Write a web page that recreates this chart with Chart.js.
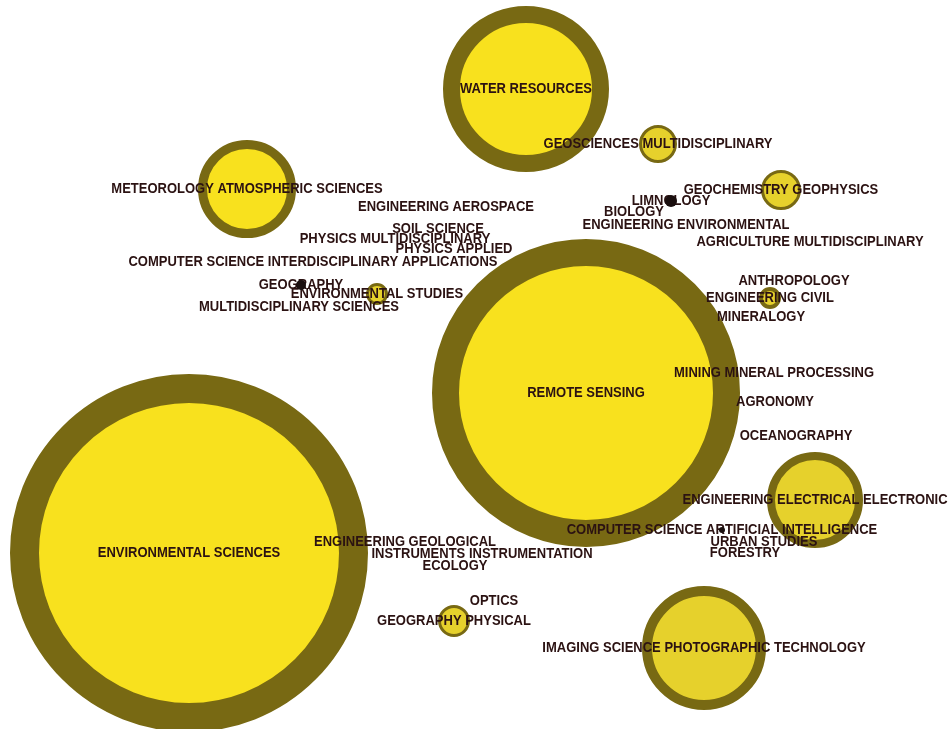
<!DOCTYPE html>
<html>
<head>
<meta charset="utf-8">
<script src="https://cdn.jsdelivr.net/npm/chart.js@4.4.1/dist/chart.umd.min.js"></script>
<style>
  html, body { margin: 0; padding: 0; background: #ffffff; }
  #wrap { width: 950px; height: 729px; position: relative; }
</style>
</head>
<body>
<div id="wrap"><canvas id="c"></canvas></div>
<script>
// Subject categories (node labels)
const categories = [
  "ENVIRONMENTAL SCIENCES", "REMOTE SENSING", "WATER RESOURCES",
  "METEOROLOGY ATMOSPHERIC SCIENCES", "IMAGING SCIENCE PHOTOGRAPHIC TECHNOLOGY",
  "ENGINEERING ELECTRICAL ELECTRONIC", "GEOSCIENCES MULTIDISCIPLINARY",
  "GEOCHEMISTRY GEOPHYSICS", "GEOGRAPHY PHYSICAL", "ENVIRONMENTAL STUDIES",
  "ENGINEERING CIVIL", "LIMNOLOGY", "GEOGRAPHY",
  "COMPUTER SCIENCE ARTIFICIAL INTELLIGENCE", "ENGINEERING AEROSPACE",
  "BIOLOGY", "ENGINEERING ENVIRONMENTAL", "AGRICULTURE MULTIDISCIPLINARY",
  "SOIL SCIENCE", "PHYSICS MULTIDISCIPLINARY", "PHYSICS APPLIED",
  "COMPUTER SCIENCE INTERDISCIPLINARY APPLICATIONS", "MULTIDISCIPLINARY SCIENCES",
  "ANTHROPOLOGY", "MINERALOGY", "MINING MINERAL PROCESSING", "AGRONOMY",
  "OCEANOGRAPHY", "URBAN STUDIES", "FORESTRY", "ENGINEERING GEOLOGICAL",
  "INSTRUMENTS INSTRUMENTATION", "ECOLOGY", "OPTICS"
];
// Layout coordinates of each node
const layoutX = [189, 586, 526, 247, 704, 815, 658, 781, 454, 377, 770, 671, 301,
  722, 446, 634, 686, 810, 438, 395, 454, 313, 299, 794, 761, 774, 775, 796,
  764, 745, 405, 482, 455, 494];
const layoutY = [553, 393, 89, 189, 648, 500, 144, 190, 621, 294, 298, 201, 285,
  530, 207, 212, 225, 242, 229, 239, 249, 262, 307, 281, 317, 373, 402, 436,
  542, 553, 542, 554, 566, 601];
// Total node size (outer radius) and citation-burst ring size
const nodeSize = [179, 154, 83, 49, 62, 48, 19, 20, 16, 11, 11, 6, 5, 3,
  0, 0, 0, 0, 0, 0, 0, 0, 0, 0, 0, 0, 0, 0, 0, 0, 0, 0, 0, 0];
const ringSize = [29, 27, 17, 9, 10, 8, 3, 3, 3, 3, 4, 0, 0, 0,
  0, 0, 0, 0, 0, 0, 0, 0, 0, 0, 0, 0, 0, 0, 0, 0, 0, 0, 0, 0];

const RING = '#786913';
const TEXT = '#2b1212';
const BRIGHT = '#f8e11e', MUTED = '#e6d12c';
const brightNodes = ["ENVIRONMENTAL SCIENCES", "REMOTE SENSING", "WATER RESOURCES", "METEOROLOGY ATMOSPHERIC SCIENCES"];

const ringPts = [], ringBg = [], ringBw = [];
const dotPts = [];
categories.forEach((name, i) => {
  const s = nodeSize[i], w = ringSize[i];
  if (s <= 0) return;
  if (w > 0) {
    ringPts.push({ x: layoutX[i], y: layoutY[i], r: s - w / 2 });
    ringBg.push(brightNodes.includes(name) ? BRIGHT : MUTED);
    ringBw.push(w);
  } else {
    dotPts.push({ x: layoutX[i], y: layoutY[i], r: s });
  }
});

const labelPlugin = {
  id: 'nodeLabels',
  afterDatasetDraw(chart, args) {
    if (args.index !== 1) return;
    const ctx = chart.ctx, xs = chart.scales.x, ys = chart.scales.y;
    const sy = 1.15;
    ctx.save();
    ctx.font = 'bold 13px "Liberation Sans", Arial, sans-serif';
    ctx.fillStyle = TEXT;
    ctx.textAlign = 'center';
    ctx.textBaseline = 'middle';
    categories.forEach((name, i) => {
      const px = xs.getPixelForValue(layoutX[i]);
      const py = ys.getPixelForValue(layoutY[i]);
      ctx.save();
      ctx.translate(px, py);
      ctx.scale(1, sy);
      ctx.fillText(name, 0, 0);
      ctx.restore();
    });
    ctx.restore();
  }
};

new Chart(document.getElementById('c'), {
  type: 'bubble',
  data: {
    datasets: [
      { label: 'dots', data: dotPts, backgroundColor: '#1a0f0f', borderWidth: 0, clip: false },
      { label: 'nodes', data: ringPts, backgroundColor: ringBg, borderColor: RING, borderWidth: ringBw, clip: false }
    ]
  },
  options: {
    responsive: true,
    maintainAspectRatio: false,
    animation: false,
    events: [],
    layout: { padding: 0, autoPadding: false },
    plugins: { legend: { display: false }, tooltip: { enabled: false } },
    scales: {
      x: { type: 'linear', min: 0, max: 950, display: false },
      y: { type: 'linear', min: 0, max: 729, reverse: true, display: false }
    }
  },
  plugins: [labelPlugin]
});
</script>
</body>
</html>
